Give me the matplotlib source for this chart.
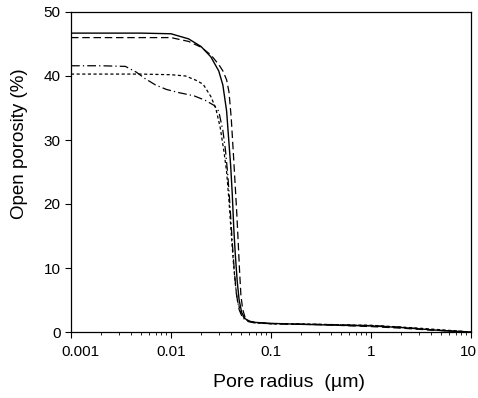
import numpy as np
import matplotlib.pyplot as plt
import matplotlib.transforms as mtransforms

plt.rcParams['font.family'] = ['Liberation Sans', 'DejaVu Sans']

# pore radius (um) / open porosity (%)
r_solid = [0.001, 0.005, 0.01, 0.015, 0.02, 0.025, 0.03, 0.033, 0.036, 0.038,
           0.0395, 0.041, 0.0425, 0.044, 0.046, 0.048, 0.051, 0.055, 0.06, 0.07,
           0.1, 0.2, 0.5, 1, 2, 4, 6, 10]
p_solid = [46.7, 46.7, 46.6, 45.8, 44.6, 43.0, 40.8, 38.6, 34.5, 29.5,
           26.0, 21.5, 16.0, 12.0, 7.8, 5.0, 3.0, 2.1, 1.7, 1.5,
           1.35, 1.2, 1.05, 0.95, 0.7, 0.35, 0.15, 0.0]

r_dash = [0.001, 0.01, 0.015, 0.02, 0.025, 0.03, 0.033, 0.036, 0.038, 0.04,
          0.042, 0.044, 0.0455, 0.047, 0.0485, 0.05, 0.052, 0.055, 0.06, 0.07,
          0.1, 0.3, 1, 2, 4, 10]
p_dash = [46.0, 46.0, 45.4, 44.5, 43.3, 41.8, 40.8, 39.4, 37.5, 33.5,
          28.0, 22.5, 18.5, 14.0, 9.5, 5.8, 3.6, 2.3, 1.7, 1.45,
          1.3, 1.15, 0.85, 0.6, 0.3, 0.0]

r_dashdot = [0.001, 0.002, 0.0035, 0.0045, 0.0055, 0.007, 0.009, 0.012, 0.017, 0.022,
             0.027, 0.03, 0.033, 0.035, 0.037, 0.039, 0.041, 0.043, 0.045, 0.048,
             0.052, 0.06, 0.07, 0.1, 0.3, 1, 2, 4, 10]
p_dashdot = [41.6, 41.6, 41.5, 40.6, 39.6, 38.6, 37.9, 37.4, 36.9, 36.2,
             35.4, 34.5, 31.5, 28.5, 24.5, 19.5, 14.0, 9.5, 6.0, 3.5,
             2.2, 1.6, 1.4, 1.3, 1.2, 1.0, 0.75, 0.35, 0.0]

r_dot = [0.001, 0.005, 0.01, 0.014, 0.018, 0.021, 0.025, 0.028, 0.031, 0.034,
         0.036, 0.038, 0.04, 0.042, 0.044, 0.046, 0.05, 0.055, 0.065, 0.1,
         0.3, 1, 3, 10]
p_dot = [40.3, 40.3, 40.2, 40.0, 39.3, 38.7, 36.8, 35.0, 32.0, 28.0,
         25.0, 20.5, 15.5, 11.0, 7.5, 5.0, 3.0, 2.0, 1.5, 1.3,
         1.2, 1.05, 0.6, 0.0]

xticks = [0.001, 0.01, 0.1, 1, 10]
xlabels = ['0.001', '0.01', '0.1', '1', '10']
yticks = [0, 10, 20, 30, 40, 50]

fig = plt.figure(figsize=(4.78, 3.98), dpi=100)
ax = fig.add_axes([71/478, 66/398, 400/478, 320/398])

ax.plot(r_solid, p_solid, color='black', lw=1.0, ls='-')
ax.plot(r_dash, p_dash, color='black', lw=0.9, ls=(0, (6, 3)))
ax.plot(r_dashdot, p_dashdot, color='black', lw=0.9, ls=(0, (7, 2.5, 1, 2.5)))
ax.plot(r_dot, p_dot, color='black', lw=0.9, ls=(0, (2.5, 2)))

ax.set_xscale('log')
ax.set_xlim(0.001, 10)
ax.set_ylim(0, 50)
ax.set_xticks(xticks)
ax.set_xticklabels(xlabels)
ax.set_yticks(yticks)
ax.tick_params(which='major', direction='out', length=4, width=0.8, labelsize=11, colors='black')
ax.tick_params(axis='x', which='major', pad=5)
ax.tick_params(which='minor', direction='out', length=2, width=0.6)
ax.tick_params(axis='y', which='minor', left=False)
for s in ax.spines.values():
    s.set_linewidth(0.9)

# first and last x labels nudged like in the original
labs = ax.get_xticklabels()
labs[0].set_transform(labs[0].get_transform() + mtransforms.ScaledTranslation(9/100, 0, fig.dpi_scale_trans))
labs[-1].set_transform(labs[-1].get_transform() + mtransforms.ScaledTranslation(-3/100, 0, fig.dpi_scale_trans))

ax.set_xlabel('Pore radius  (\u00b5m)', fontsize=14)
ax.set_ylabel('Open porosity (%)', fontsize=13.5)
ax.xaxis.set_label_coords(0.545, -0.13)
ax.yaxis.set_label_coords(-0.108, 0.59)

fig.savefig('out.png', dpi=100)
